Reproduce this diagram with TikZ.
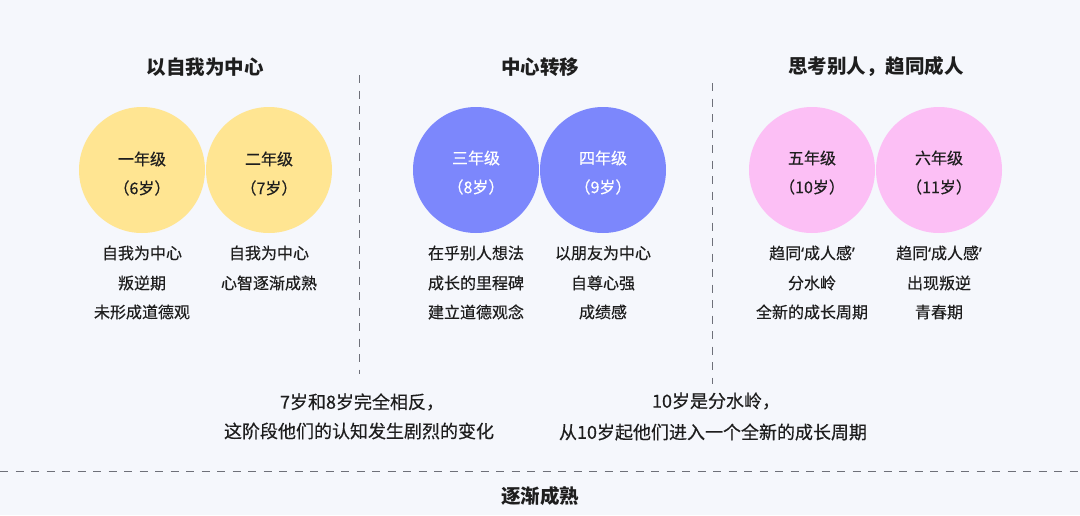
\documentclass[tikz,border=0pt]{standalone}
\usepackage{fontspec}
\setmainfont{Noto Sans CJK SC}
\newfontfamily\cjk[FakeBold=0.45]{Noto Sans CJK SC}
\newfontfamily\cjkb{Noto Sans CJK SC}
\newfontfamily\latq[FakeBold=0.45]{Noto Sans}
\newcommand{\qopen}{{\latq ‘}}
\newcommand{\qclose}{{\latq ’}}
\definecolor{bgc}{HTML}{F5F7FC}
\definecolor{txt}{HTML}{1E1E1E}
\definecolor{yel}{HTML}{FFE592}
\definecolor{blu}{HTML}{7C87FC}
\definecolor{pnk}{HTML}{FCBFF5}
\definecolor{dash}{HTML}{6E7079}
\tikzset{
  grade/.style={circle,minimum size=126pt,inner sep=0pt,draw=none},
  ctext/.style={font=\cjk\fontsize{16pt}{19pt}\selectfont,text=txt,anchor=center,inner sep=0pt},
  wtext/.style={font=\cjk\fontsize{16pt}{19pt}\selectfont,text=white,anchor=center,inner sep=0pt},
  body/.style={font=\cjk\fontsize{16pt}{19pt}\selectfont,text=txt,anchor=center,inner sep=0pt},
  ttl/.style={font=\cjkb\bfseries\fontsize{19.5pt}{23pt}\selectfont,text=txt,anchor=center,inner sep=0pt},
  note/.style={font=\cjk\fontsize{18pt}{21pt}\selectfont,text=txt,anchor=center,inner sep=0pt},
  sep/.style={draw=dash,line width=1pt,dash pattern=on 8pt off 7.5pt}
}
\begin{document}
\begin{tikzpicture}[x=1pt,y=-1pt]
\fill[bgc] (0,0) rectangle (1080,515);
\useasboundingbox (0,0) rectangle (1080,515);
% separators
\coordinate (v1a) at (359,75); \coordinate (v1b) at (359,374);
\coordinate (v2a) at (712,83); \coordinate (v2b) at (712,384);
\coordinate (ha) at (0,471); \coordinate (hb) at (1080,471);
\draw[sep] (v1a) -- (v1b);
\draw[sep] (v2a) -- (v2b);
\draw[sep] (ha) -- (hb);
% titles
\node[ttl] (t1) at (205,67) {以自我为中心};
\node[ttl] (t2) at (540,67) {中心转移};
\node[ttl] (t3) at (876,67) {思考别人，趋同成人};
% circles
\node[grade,fill=yel] (c1) at (142,170) {};
\node[grade,fill=yel] (c2) at (269,170) {};
\node[grade,fill=blu] (c3) at (476,170) {};
\node[grade,fill=blu] (c4) at (603,170) {};
\node[grade,fill=pnk] (c5) at (812,170) {};
\node[grade,fill=pnk] (c6) at (939,170) {};
% circle labels
\node[ctext] (g1) at (142,159) {一年级};
\node[ctext] (a1) at (142,188) {（6岁）};
\node[ctext] (g2) at (269,159) {二年级};
\node[ctext] (a2) at (269,188) {（7岁）};
\node[wtext] (g3) at (476,158) {三年级};
\node[wtext] (a3) at (476,187) {（8岁）};
\node[wtext] (g4) at (603,158) {四年级};
\node[wtext] (a4) at (603,187) {（9岁）};
\node[ctext] (g5) at (812,158) {五年级};
\node[ctext] (a5) at (812,187) {（10岁）};
\node[ctext] (g6) at (939,158) {六年级};
\node[ctext] (a6) at (939,187) {（11岁）};
% descriptions
\node[body] (d11) at (142,253) {自我为中心};
\node[body] (d12) at (142,283) {叛逆期};
\node[body] (d13) at (142,312) {未形成道德观};
\node[body] (d21) at (269,253) {自我为中心};
\node[body] (d22) at (269,283) {心智逐渐成熟};
\node[body] (d31) at (476,253) {在乎别人想法};
\node[body] (d32) at (476,283) {成长的里程碑};
\node[body] (d33) at (476,312) {建立道德观念};
\node[body] (d41) at (603,253) {以朋友为中心};
\node[body] (d42) at (603,283) {自尊心强};
\node[body] (d43) at (603,312) {成绩感};
\node[body] (d51) at (812,253) {趋同\qopen 成人感\qclose};
\node[body] (d52) at (812,283) {分水岭};
\node[body] (d53) at (812,312) {全新的成长周期};
\node[body] (d61) at (939,253) {趋同\qopen 成人感\qclose};
\node[body] (d62) at (939,283) {出现叛逆};
\node[body] (d63) at (939,312) {青春期};
% notes
\node[note] (n11) at (362,402) {7岁和8岁完全相反，};
\node[note] (n12) at (359,431) {这阶段他们的认知发生剧烈的变化};
\node[note] (n21) at (716,401) {10岁是分水岭，};
\node[note] (n22) at (713,432) {从10岁起他们进入一个全新的成长周期};
\node[ttl] (bot) at (540,496) {逐渐成熟};
\end{tikzpicture}
\end{document}
